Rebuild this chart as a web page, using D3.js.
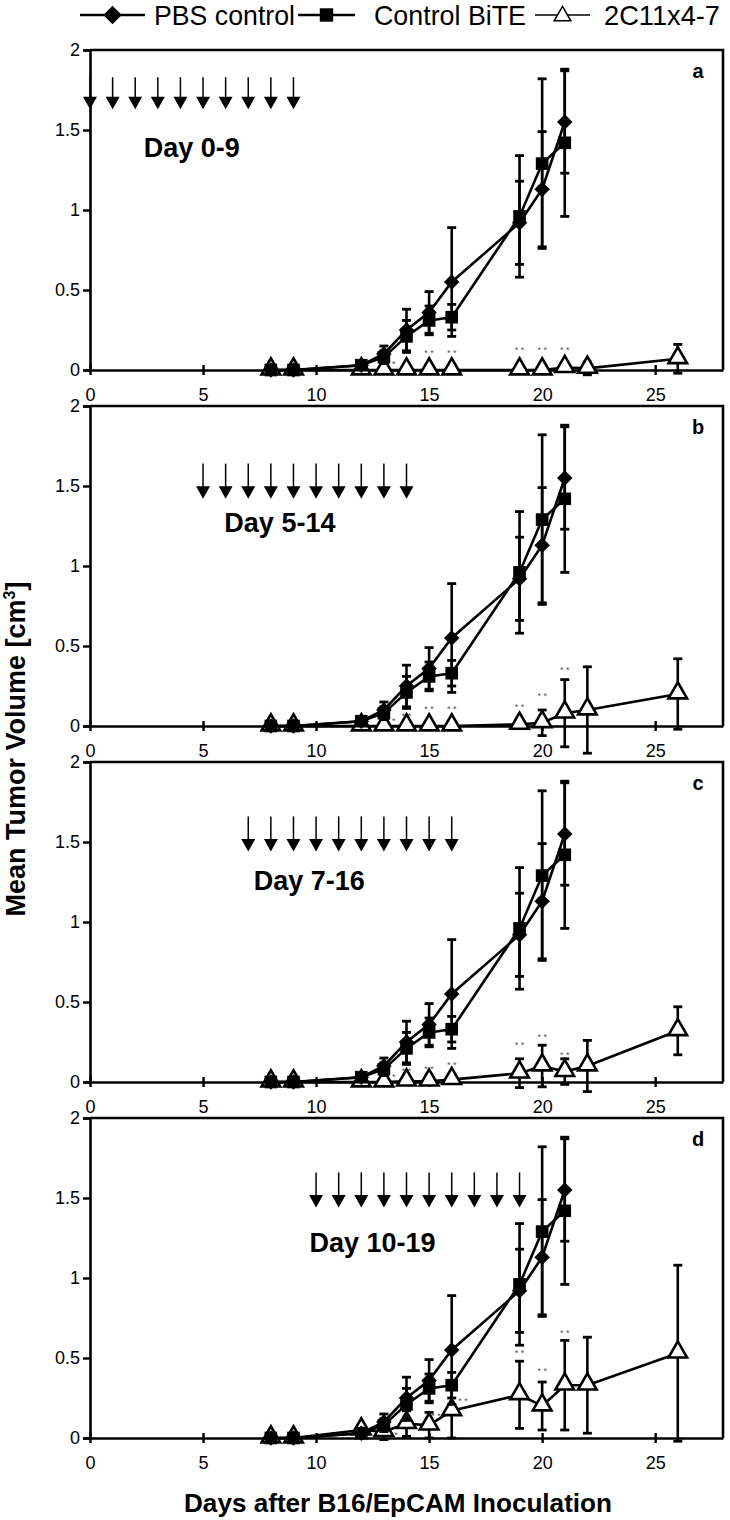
<!DOCTYPE html>
<html><head><meta charset="utf-8">
<script src="https://cdn.jsdelivr.net/npm/d3@7"></script>
<style>body{margin:0;background:#fff}</style>
</head><body><svg id="c" width="730" height="1520"></svg>
<script>
// ---------- DATA ----------
const days = [8, 9, 12, 13, 14, 15, 16, 19, 20, 21];
const triDays = [8, 9, 12, 13, 14, 15, 16, 19, 20, 21, 22, 26];
const pbsMean = [0, 0, 0.03, 0.10, 0.25, 0.36, 0.55, 0.92, 1.13, 1.55];
const pbsErr  = [0.01, 0.01, 0.02, 0.05, 0.13, 0.13, 0.34, 0.26, 0.36, 0.32];
const biteMean = [0, 0, 0.03, 0.08, 0.21, 0.31, 0.33, 0.96, 1.29, 1.42];
const biteErr  = [0.01, 0.01, 0.02, 0.04, 0.10, 0.09, 0.08, 0.38, 0.53, 0.46];
const triA = [0, 0, 0, 0, 0, 0, 0, 0, 0, 0.015, 0.01, 0.07];
const errA = [0, 0, 0, 0, 0, 0, 0, 0, 0, 0.01, 0.04, 0.09];
const triB = [0, 0, 0, 0, 0, 0, 0, 0.01, 0.02, 0.08, 0.10, 0.20];
const errB = [0, 0, 0, 0, 0, 0, 0, 0.01, 0.08, 0.21, 0.27, 0.22];
const triC = [0, 0, 0, 0, 0.005, 0.005, 0.015, 0.055, 0.10, 0.065, 0.10, 0.32];
const errC = [0, 0, 0, 0, 0.005, 0.01, 0.02, 0.09, 0.13, 0.08, 0.16, 0.15];
const triD = [0, 0, 0.05, 0.04, 0.09, 0.08, 0.17, 0.27, 0.20, 0.33, 0.33, 0.53];
const errD = [0, 0, 0.03, 0.05, 0.08, 0.08, 0.17, 0.21, 0.15, 0.28, 0.30, 0.55];
const sigDaysA = [13.3, 14, 15, 16, 19, 20, 21];
const sigValsA = [0.04, 0.11, 0.11, 0.11, 0.125, 0.125, 0.125];
const sigDaysB = [13.3, 14, 15, 16, 19, 20, 21];
const sigValsB = [0.03, 0.065, 0.11, 0.11, 0.12, 0.19, 0.35];
const sigDaysC = [13.3, 14, 15, 16, 19, 20, 21];
const sigValsC = [0.03, 0.07, 0.085, 0.11, 0.235, 0.28, 0.17];
const sigDaysD = [13.4, 15.3, 16.5, 19, 20, 21];
const sigValsD = [0.02, 0.14, 0.23, 0.53, 0.42, 0.66];
const panelLabels = ['a', 'b', 'c', 'd'];
const treatStart = [0, 5, 7, 10];
const treatText = ['Day 0-9', 'Day 5-14', 'Day 7-16', 'Day 10-19'];
const xTicks = [0, 5, 10, 15, 20, 25];
const yTicks = [0, 0.5, 1, 1.5, 2];
const seriesNames = ['PBS control', 'Control BiTE', '2C11x4-7'];

const triMeans = [triA, triB, triC, triD];
const triErrs = [errA, errB, errC, errD];
const sigDays = [sigDaysA, sigDaysB, sigDaysC, sigDaysD];
const sigVals = [sigValsA, sigValsB, sigValsC, sigValsD];

// ---------- LAYOUT ----------
const L = 90, R = 723, panelH = 320, tops = [50, 406, 762, 1118];
const arrowLayout = [ {top:1.83, tip:1.63, text:1.39, tx:4.5},
                      {top:1.64, tip:1.42, text:1.27, tx:8.4},
                      {top:1.66, tip:1.44, text:1.26, tx:9.7},
                      {top:1.66, tip:1.44, text:1.22, tx:12.5} ];
const FONT = 'Liberation Sans, Arial, sans-serif';

const svg = d3.select('#c');
const x = d3.scaleLinear().domain([0, 28]).range([L, R]);
const diamondPath = d3.symbol().type(d3.symbolSquare).size(120)();
const squarePath = d3.symbol().type(d3.symbolSquare).size(160)();
const trianglePath = d3.symbol().type(d3.symbolTriangle).size(150)();

function drawSeries(g, y, xs, means, errs, kind) {
  const pts = xs.map((d, i) => ({d, m: means[i], e: errs[i]}));
  const eb = g.append('g');
  pts.forEach(p => {
    if (p.e <= 0) return;
    eb.append('line').attr('x1', x(p.d)).attr('x2', x(p.d))
      .attr('y1', y(p.m - p.e)).attr('y2', y(p.m + p.e))
      .attr('stroke', '#000').attr('stroke-width', 2.6);
    [p.m - p.e, p.m + p.e].forEach(v => {
      eb.append('line').attr('x1', x(p.d) - 4.5).attr('x2', x(p.d) + 4.5)
        .attr('y1', y(v)).attr('y2', y(v))
        .attr('stroke', '#000').attr('stroke-width', 2.8);
    });
  });
  g.append('path').datum(pts)
    .attr('d', d3.line().x(p => x(p.d)).y(p => y(p.m)))
    .attr('fill', 'none').attr('stroke', '#000').attr('stroke-width', 2.6);
  const mk = g.append('g');
  pts.forEach(p => {
    if (kind === 'diamond') mk.append('path').attr('d', diamondPath).attr('fill', '#000')
      .attr('transform', `translate(${x(p.d)},${y(p.m)}) rotate(45)`);
    else if (kind === 'square') mk.append('path').attr('d', squarePath).attr('fill', '#000')
      .attr('transform', `translate(${x(p.d)},${y(p.m)})`);
    else mk.append('path').attr('d', trianglePath).attr('transform', `translate(${x(p.d)},${y(p.m) - 1})`)
      .attr('fill', '#fff').attr('stroke', '#000').attr('stroke-width', 2.6).attr('stroke-linejoin', 'miter');
  });
}

panelLabels.forEach((lab, pi) => {
  const top = tops[pi];
  const y = d3.scaleLinear().domain([0, 2]).range([top + panelH, top]);
  const g = svg.append('g');
  g.append('path').attr('d', `M${L},${top}H${R}V${top + panelH}`)
    .attr('fill', 'none').attr('stroke', '#000').attr('stroke-width', 2.6);

  const ya = g.append('g').attr('transform', `translate(${L},0)`)
    .call(d3.axisLeft(y).tickValues(yTicks).tickFormat(d => String(d)).tickSize(7).tickPadding(3));
  ya.select('.domain').attr('stroke-width', 2.6);
  ya.selectAll('.tick line').attr('stroke-width', 2.4);
  ya.selectAll('.tick text').attr('font-family', FONT).attr('font-size', 18).attr('fill', '#000');

  const xa = g.append('g').attr('transform', `translate(0,${top + panelH})`)
    .call(d3.axisBottom(x).tickValues(xTicks).tickSize(5).tickSizeOuter(0).tickPadding(13));
  xa.select('.domain').attr('stroke-width', 2.6);
  xa.selectAll('.tick line').attr('y1', -5).attr('stroke-width', 2.4);
  xa.selectAll('.tick text').attr('font-family', FONT).attr('font-size', 18).attr('fill', '#000');

  const al = arrowLayout[pi];
  d3.range(treatStart[pi], treatStart[pi] + 10).forEach(d => {
    g.append('line').attr('x1', x(d)).attr('x2', x(d))
      .attr('y1', y(al.top)).attr('y2', y(al.tip) - 10)
      .attr('stroke', '#000').attr('stroke-width', 1.5);
    g.append('path').attr('d', `M${x(d) - 7},${y(al.tip) - 12.5}L${x(d) + 7},${y(al.tip) - 12.5}L${x(d)},${y(al.tip)}Z`)
      .attr('fill', '#000');
  });
  g.append('text').attr('x', x(al.tx)).attr('y', y(al.text)).attr('dy', '0.35em')
    .attr('text-anchor', 'middle').attr('font-family', FONT).attr('font-weight', 'bold')
    .attr('font-size', 27).text(treatText[pi]);

  g.append('text').attr('x', x(26.9)).attr('y', top + 28).attr('font-family', FONT)
    .attr('font-weight', 'bold').attr('font-size', 20).attr('text-anchor', 'middle').text(lab);

  sigDays[pi].forEach((d, i) => {
    g.append('text').attr('x', x(d)).attr('y', y(sigVals[pi][i])).attr('dy', '0.35em')
      .attr('text-anchor', 'middle').attr('font-family', FONT).attr('font-size', 9)
      .attr('fill', '#555').text('* *');
  });

  drawSeries(g, y, triDays, triMeans[pi], triErrs[pi], 'triangle');
  drawSeries(g, y, days, biteMean, biteErr, 'square');
  drawSeries(g, y, days, pbsMean, pbsErr, 'diamond');
});

// axis titles
svg.append('text').attr('x', 398).attr('y', 1512).attr('text-anchor', 'middle')
  .attr('font-family', FONT).attr('font-weight', 'bold').attr('font-size', 25)
  .attr('textLength', 428).attr('lengthAdjust', 'spacingAndGlyphs')
  .text('Days after B16/EpCAM Inoculation');
const yt = svg.append('text').attr('transform', 'translate(25,749) rotate(-90)')
  .attr('text-anchor', 'middle').attr('font-family', FONT).attr('font-weight', 'bold').attr('font-size', 27);
yt.append('tspan').text('Mean Tumor Volume [cm');
yt.append('tspan').attr('font-size', 16).attr('dy', -10).text('3');
yt.append('tspan').attr('dy', 10).text(']');

// legend
const leg = svg.append('g');
const legItems = [
  {kind: 'diamond', x1: 80, x2: 145, tx: 154, w: 141},
  {kind: 'square', x1: 298, x2: 355, tx: 374, w: 152},
  {kind: 'triangle', x1: 535, x2: 590, tx: 604, w: 116}
];
const ly = 15;
legItems.forEach((it, i) => {
  leg.append('line').attr('x1', it.x1).attr('x2', it.x2).attr('y1', ly).attr('y2', ly)
    .attr('stroke', '#000').attr('stroke-width', it.kind === 'triangle' ? 1.5 : 2.6);
  const cx = (it.x1 + it.x2) / 2;
  if (it.kind === 'diamond') leg.append('path').attr('d', d3.symbol().type(d3.symbolSquare).size(170)())
    .attr('transform', `translate(${cx},${ly}) rotate(45)`).attr('fill', '#000');
  else if (it.kind === 'square') leg.append('path').attr('d', d3.symbol().type(d3.symbolSquare).size(180)())
    .attr('transform', `translate(${cx},${ly})`).attr('fill', '#000');
  else leg.append('path').attr('d', d3.symbol().type(d3.symbolTriangle).size(120)())
    .attr('transform', `translate(${cx},${ly + 1})`).attr('fill', '#fff').attr('stroke', '#000').attr('stroke-width', 1.5);
  leg.append('text').attr('x', it.tx).attr('y', ly).attr('dy', '0.36em')
    .attr('font-family', FONT).attr('font-size', 28)
    .attr('textLength', it.w).attr('lengthAdjust', 'spacingAndGlyphs').text(seriesNames[i]);
});
</script></body></html>
